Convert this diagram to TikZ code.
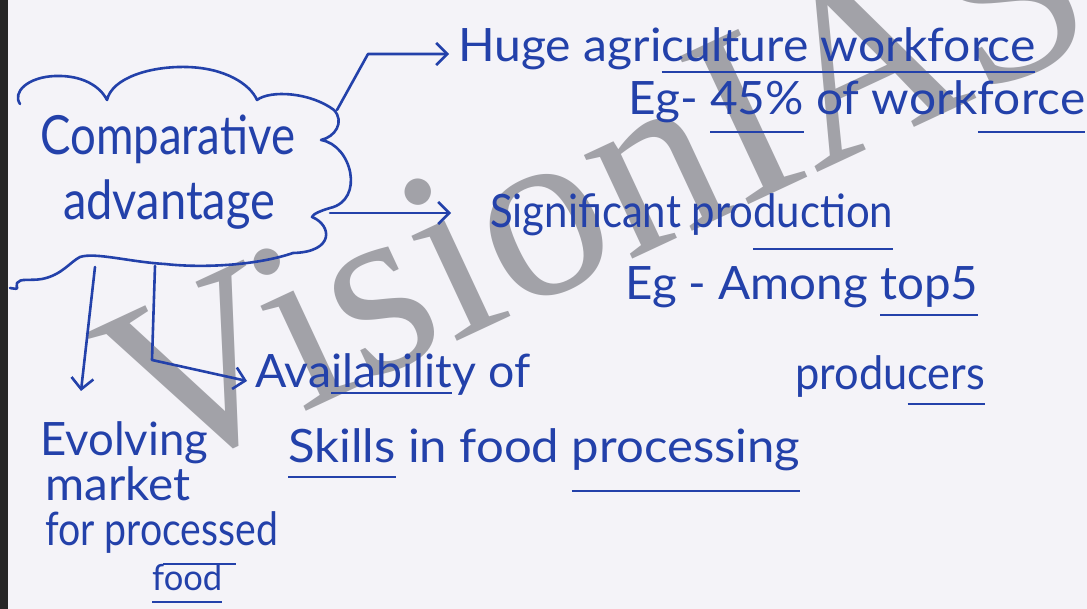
\documentclass[tikz,border=0pt]{standalone}
\usepackage{fontspec}
\setmainfont{Lato}
\newfontfamily\wmfont{Liberation Serif}
\usetikzlibrary{arrows.meta}
\definecolor{ink}{RGB}{35,65,170}
\definecolor{paper}{RGB}{244,243,248}
\definecolor{wmgrey}{RGB}{162,162,168}
\newcommand{\hw}[2]{\resizebox{#1pt}{\height}{#2}}
\newsavebox{\ulbox}
\newcommand{\ul}[2][12pt]{\sbox{\ulbox}{#2}\rlap{\raisebox{-#1}{\rule{\wd\ulbox}{2.4pt}}}\usebox{\ulbox}}
\begin{document}
\begin{tikzpicture}[x=1pt,y=-1pt,
  pen/.style={draw=ink, line width=2.6pt, line cap=round, line join=round},
  tip/.style={-{Straight Barb[length=11pt,width=22pt,line width=2.6pt]}},
  hand/.style={anchor=base west, inner sep=0pt, text=ink, font=\fontsize{46}{50}\selectfont},
  bighand/.style={hand, font=\fontsize{54}{58}\selectfont},
  smallhand/.style={hand, font=\fontsize{36}{40}\selectfont}]
\fill[paper] (0,0) rectangle (1087,609);
\useasboundingbox (0,0) rectangle (1087,609);
\fill[black!85] (0,0) rectangle (8,609);

% watermark (behind the ink)
\node[rotate=25, anchor=base west, inner sep=0pt, text=wmgrey,
  font=\wmfont\fontsize{249}{249}\selectfont] (wmark) at (152,483) {VisionIAS};

% cloud
\draw[pen] (20,104) .. controls (12,92) and (28,77) .. (55,76)
  .. controls (82,75) and (100,86) .. (107,100)
  .. controls (112,78) and (150,66) .. (187,67)
  .. controls (225,68) and (250,84) .. (257,100)
  .. controls (270,90) and (310,92) .. (334,110)
  .. controls (345,122) and (335,137) .. (321,140)
  .. controls (352,145) and (365,200) .. (330,208)
  .. controls (320,211) and (313,214) .. (312,217)
  .. controls (332,225) and (335,252) .. (293,253)
  .. controls (255,266) and (200,268) .. (165,264)
  .. controls (130,262) and (95,252) .. (80,257)
  .. controls (70,262) and (62,275) .. (42,279)
  .. controls (30,281) and (20,278) .. (17,283)
  .. controls (15,288) and (22,290) .. (10,288);
\coordinate (cTop) at (337,110);
\coordinate (cRight) at (330,213);
\coordinate (cB1) at (95,267);
\coordinate (cB2) at (155,266);

\node[bighand] (comp) at (40,155) {\hw{255}{Comparative}};
\node[bighand] (adv) at (63,220) {\hw{212}{advantage}};

% texts
\node[hand] (huge) at (458,62) {\hw{577}{Huge agri\ul[11pt]{culture workforce}}};
\node[hand] (eg1) at (628,115) {\hw{457}{Eg- \ul[18pt]{45\%} of work\ul[18pt]{force}}};
\node[hand] (sig) at (490,228) {\hw{403}{Significant pro\ul[22pt]{duction}}};
\node[hand] (eg2) at (625,300) {\hw{353}{Eg - Among \ul[16pt]{top5}}};
\node[hand] (prod) at (795,390) {\hw{190}{produ\ul[15pt]{cers}}};
\node[hand] (avail) at (255,388) {\hw{275}{Ava\ul[6pt]{ilabilit}y of}};
\node[hand] (skills) at (288,462) {\hw{512}{\ul[16pt]{Skills} in food \ul[30pt]{processing}}};
\node[hand] (evol) at (40,455) {\hw{168}{Evolving}};
\node[hand] (mark) at (45,500) {\hw{145}{market}};
\node[hand] (forp) at (45,545) {\hw{233}{for pro\ul[20pt]{cess}ed}};
\node[smallhand] (food) at (152,590) {\hw{70}{\ul[13pt]{food}}};

% connectors
\coordinate (k1) at (368,54);
\coordinate (e1) at (449,54);
\coordinate (e2) at (451,213);
\coordinate (e3) at (81,391);
\coordinate (k4) at (152,360);
\coordinate (e4) at (247,381);
\draw[pen,tip] (cTop) -- (k1) -- (e1);
\draw[pen,tip] (cRight) -- (e2);
\draw[pen,tip] (cB1) -- (e3);
\draw[pen,tip] (cB2) -- (k4) -- (e4);
\end{tikzpicture}
\end{document}
